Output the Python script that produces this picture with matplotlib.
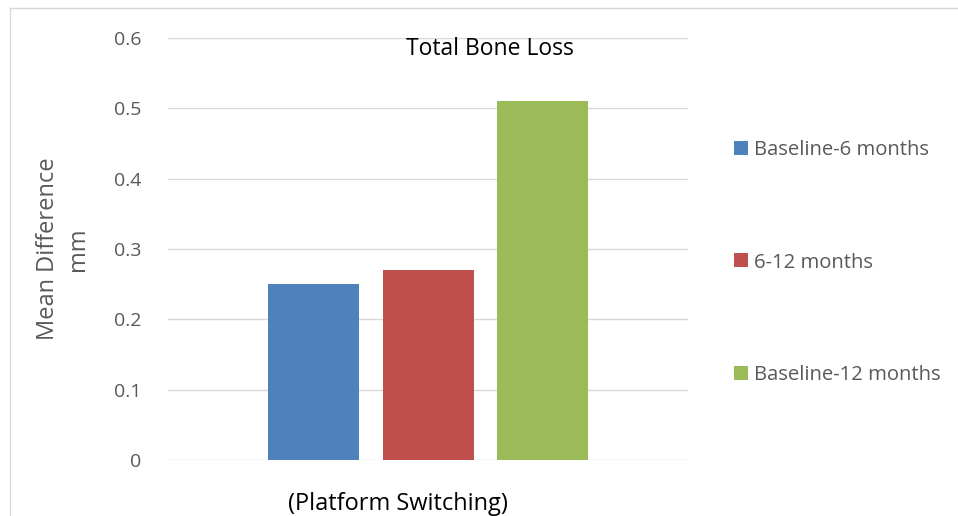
import matplotlib.pyplot as plt
from matplotlib.lines import Line2D

plt.rcParams['font.family'] = ['Open Sans', 'DejaVu Sans']

# Dane wykresu
category = '(Platform Switching)'
series_names = ['Baseline-6 months', '6-12 months', 'Baseline-12 months']
values = [0.25, 0.27, 0.51]
colors = ['#4f81bd', '#c0504d', '#9bbb59']
y_ticks = [0, 0.1, 0.2, 0.3, 0.4, 0.5, 0.6]

fig = plt.figure(figsize=(9.58, 5.16), dpi=100)
ax = fig.add_axes([168 / 958, 1 - 460 / 516, 520 / 958, 422 / 516])

width = 0.175
step = 0.221
for i, (name, val, col) in enumerate(zip(series_names, values, colors)):
    ax.bar((i - 1) * step, val, width=width, color=col, label=name, zorder=3)

ax.set_xlim(-0.5, 0.5)
ax.set_ylim(0, 0.6)
ax.set_yticks(y_ticks)
ax.set_yticklabels([f'{t:g}' for t in y_ticks])
ax.set_xticks([])
ax.tick_params(axis='y', length=0, labelsize=14, colors='#595959', pad=19)
ax.grid(axis='y', color='#d9d9d9', linewidth=1, zorder=0)
for s in ax.spines.values():
    s.set_visible(False)

# Podpis kategorii (lekko przesunięty w lewo, jak w oryginale)
ax.set_xlabel(category, fontsize=17, color='black')
ax.xaxis.set_label_coords((398 - 168) / 520, -0.075)

ax.set_ylabel('Mean Difference\nmm', fontsize=17, color='#595959', labelpad=17,
              linespacing=1.35)
ax.text(0.12, 0.585, 'Total Bone Loss', fontsize=16.5, ha='center', va='center')

# Legenda po prawej
leg = fig.legend(loc='upper left', bbox_to_anchor=(716 / 958, 1 - 122 / 516),
                 frameon=False, fontsize=14.6, labelspacing=4.55, handlelength=0.68,
                 handleheight=0.68, handletextpad=0.3, labelcolor='#595959')

# Ramka wykresu
fig.add_artist(Line2D([10 / 958, 1], [1 - 8 / 516, 1 - 8 / 516], color='#d9d9d9', lw=1))
fig.add_artist(Line2D([10 / 958, 10 / 958], [0, 1 - 8 / 516], color='#d9d9d9', lw=1))

fig.savefig('out.png', dpi=100)
